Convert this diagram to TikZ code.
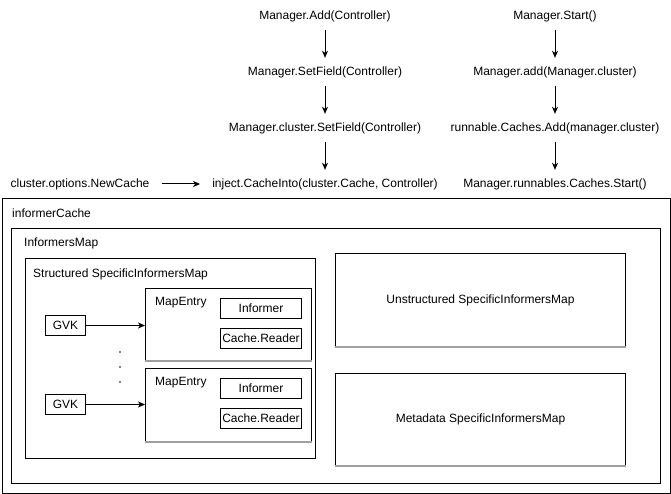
\documentclass[tikz,border=0pt]{standalone}
\usepackage{fontspec}
\setmainfont{Liberation Sans}
\usetikzlibrary{arrows.meta,positioning}

\tikzset{
  call/.style={inner xsep=12pt, inner ysep=0pt, minimum height=28pt, font=\fontsize{12}{14}\selectfont},
  tag/.style={inner sep=0pt, anchor=west, font=\fontsize{12}{14}\selectfont},
  frame/.style={draw, line width=1pt, inner sep=0pt, anchor=north west, font=\fontsize{12}{14}\selectfont},
  flow/.style={-{Stealth[length=7pt,width=6pt,inset=2pt]}, line width=1pt},
  shadeline/.style={draw=gray!75, line width=1.6pt}
}

\begin{document}
\begin{tikzpicture}[x=1pt,y=-1pt]
        \useasboundingbox (0,0) rectangle (671,494);
        % call chain of the manager
        \node[call] (madd) at (325,16) {Manager.Add(Controller)};
        \node[call] (mset) at (325,72) {Manager.SetField(Controller)};
        \node[call] (cset) at (325,128) {Manager.cluster.SetField(Controller)};
        \node[call] (inject) at (325,184) {inject.CacheInto(cluster.Cache, Controller)};
        \node[call] (newcache) at (80,184) {cluster.options.NewCache};
        \node[call] (mstart) at (555,16) {Manager.Start()};
        \node[call] (madd2) at (555,72) {Manager.add(Manager.cluster)};
        \node[call] (radd) at (555,128) {runnable.Caches.Add(manager.cluster)};
        \node[call] (rstart) at (555,184) {Manager.runnables.Caches.Start()};
        \draw[flow] (madd) -- (mset);
        \draw[flow] (mset) -- (cset);
        \draw[flow] (cset) -- (inject);
        \draw[flow] (newcache) -- (inject);
        \draw[flow] (mstart) -- (madd2);
        \draw[flow] (madd2) -- (radd);
        \draw[flow] (radd) -- (rstart);
        % the cache and its maps
        \node[frame, minimum width=668, minimum height=294] (icache) at (1.5,198.5) {};
        \node[tag] (icachelbl) at (12,213) {informerCache};
        \node[frame, minimum width=649, minimum height=255] (imap) at (11,228) {};
        \node[tag] (imaplbl) at (24,243) {InformersMap};
        \node[frame, minimum width=290, minimum height=200] (smap) at (25,258) {};
        \node[tag] (smaplbl) at (33,274) {Structured SpecificInformersMap};
        \node[frame, minimum width=290, minimum height=93] (unst) at (335,253) {Unstructured SpecificInformersMap};
        \node[frame, minimum width=290, minimum height=92] (meta) at (335,373) {Metadata SpecificInformersMap};
        % map entries
        \node[frame, minimum width=166, minimum height=72] (me1) at (145,288) {};
        \node[tag] (me1lbl) at (155,303) {MapEntry};
        \node[frame, minimum width=81, minimum height=20] (inf1) at (220,298) {Informer};
        \node[frame, minimum width=81, minimum height=20] (rd1) at (220,328) {Cache.Reader};
        \node[frame, minimum width=166, minimum height=73] (me2) at (145,368) {};
        \node[tag] (me2lbl) at (155,383) {MapEntry};
        \node[frame, minimum width=81, minimum height=20] (inf2) at (220,378) {Informer};
        \node[frame, minimum width=81, minimum height=20] (rd2) at (220,408) {Cache.Reader};
        \node[frame, minimum width=40, minimum height=20] (gvk1) at (45,315) {GVK};
        \node[frame, minimum width=40, minimum height=20] (gvk2) at (45,394) {GVK};
        \draw[flow] (gvk1) -- (gvk1 -| me1.west);
        \draw[flow] (gvk2) -- (gvk2 -| me2.west);
        \foreach \y in {352,367,382}
          \fill (120,\y) circle (0.8);
        % grey bottom edges
        \foreach \b in {me1,me2,unst,meta}
          \draw[shadeline] (\b.south west) -- (\b.south east);
    \end{tikzpicture}
\end{document}
